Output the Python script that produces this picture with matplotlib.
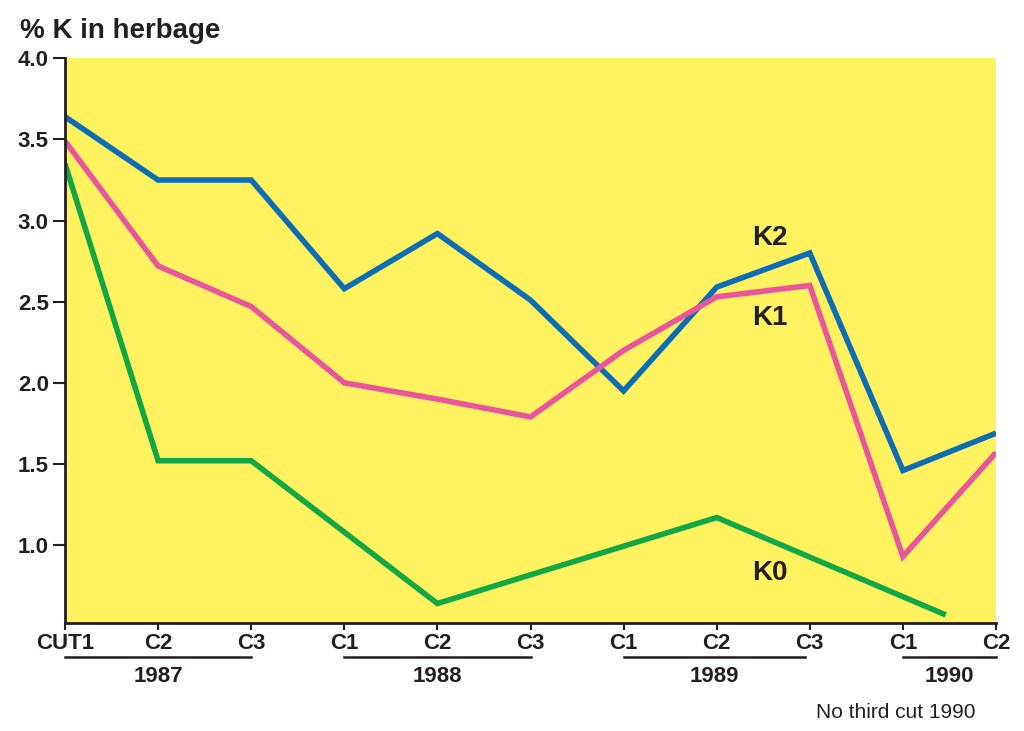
import matplotlib.pyplot as plt
import matplotlib.transforms as mtransforms

# cut positions along the x axis (CUT1 1987 ... C2 1990)
cut_labels = ['CUT1', 'C2', 'C3', 'C1', 'C2', 'C3', 'C1', 'C2', 'C3', 'C1', 'C2']
cut_pos = list(range(len(cut_labels)))

# % K in herbage
k2_values = [3.64, 3.25, 3.25, 2.58, 2.92, 2.51, 1.95, 2.59, 2.80, 1.46, 1.69]
k1_values = [3.49, 2.72, 2.47, 2.00, 1.90, 1.79, 2.20, 2.53, 2.60, 0.93, 1.57]
k0_pos = [0, 1, 2, 4, 7, 9.46]
k0_values = [3.35, 1.52, 1.52, 0.64, 1.17, 0.57]

years = ['1987', '1988', '1989', '1990']
year_start = [0, 3, 6, 9]
year_end = [2, 5, 7.95, 10]

y_ticks = [1.0, 1.5, 2.0, 2.5, 3.0, 3.5, 4.0]

yellow = '#FFF25E'
blue = '#0B6DB5'
pink = '#E8559C'
green = '#10A845'
ink = '#231F20'
font = ['Liberation Sans', 'DejaVu Sans']

fig = plt.figure(figsize=(10.24, 7.31), dpi=100)
ax = fig.add_axes([65 / 1024, 1 - 623 / 731, 931 / 1024, (623 - 58.3) / 731])
ax.set_facecolor(yellow)

lw = 4.0
ax.plot(cut_pos, k2_values, color=blue, lw=lw, solid_joinstyle='miter', solid_capstyle='butt')
ax.plot(cut_pos, k1_values, color=pink, lw=lw, solid_joinstyle='miter', solid_capstyle='butt')
ax.plot(k0_pos, k0_values, color=green, lw=lw, solid_joinstyle='miter', solid_capstyle='butt')

ax.set_xlim(0, 10)
ax.set_ylim(0.52, 4.0)

ax.set_xticks(cut_pos)
ax.set_xticklabels(cut_labels, fontsize=16, fontweight='bold', color=ink, family=font)
ax.set_yticks(y_ticks)
ax.set_yticklabels(['%.1f' % v for v in y_ticks], fontsize=16, fontweight='bold',
                   color=ink, family=font)
ax.tick_params(axis='x', length=5, width=1.5, color=ink, pad=2)
ax.tick_params(axis='y', length=8.6, width=1.5, color=ink, pad=3)

for side in ['top', 'right']:
    ax.spines[side].set_visible(False)
for side in ['left', 'bottom']:
    ax.spines[side].set_linewidth(2)
    ax.spines[side].set_color(ink)
    ax.spines[side].set_zorder(5)

# series labels
for name, yv in [('K2', 2.89), ('K1', 2.40), ('K0', 0.83)]:
    ax.text(7.57, yv, name, fontsize=20, fontweight='bold', color=ink, family=font,
            ha='center', va='center', zorder=6)

# year brackets under the cut labels
trans = mtransforms.blended_transform_factory(ax.transData, ax.transAxes)
for name, x0, x1 in zip(years, year_start, year_end):
    ax.plot([x0, x1], [-0.060, -0.060], color=ink, lw=1.8, transform=trans, clip_on=False)
    ax.text((x0 + x1) / 2, -0.094, name, transform=trans, ha='center', va='center',
            fontsize=16, fontweight='bold', color=ink, family=font)

fig.text(20 / 1024, 1 - 38 / 731, '% K in herbage', fontsize=20, fontweight='bold',
         color=ink, family=font, ha='left', va='baseline')
fig.text(975 / 1024, 1 - 718 / 731, 'No third cut 1990', fontsize=15, color=ink,
         family=font, ha='right', va='baseline')

fig.savefig('out.png', dpi=100, facecolor='white')
